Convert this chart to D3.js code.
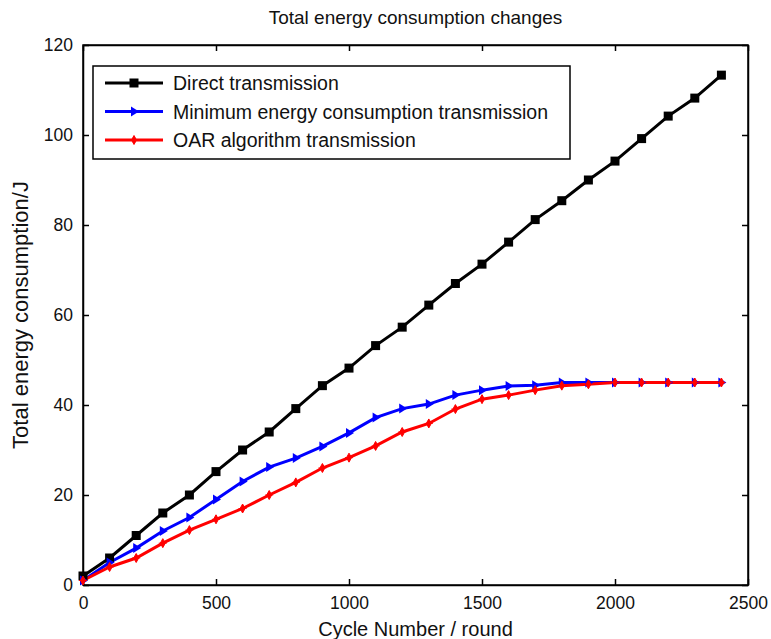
<!DOCTYPE html>
<html>
<head>
<meta charset="utf-8">
<script src="https://cdn.jsdelivr.net/npm/d3@7"></script>
<style>
  body { margin: 0; background: #fff; }
  svg text { font-family: "Liberation Sans", Arial, sans-serif; fill: #111; }
</style>
</head>
<body>
<div id="chart"></div>
<script>
// cycle numbers (rounds)
const cycles = [0, 100, 200, 300, 400, 500, 600, 700, 800, 900, 1000, 1100, 1200,
                1300, 1400, 1500, 1600, 1700, 1800, 1900, 2000, 2100, 2200, 2300, 2400];
// total energy consumption / J
const directVals = [2, 6, 11, 16, 20, 25.2, 30, 34, 39.2, 44.3, 48.2, 53.2, 57.3,
                    62.2, 67, 71.3, 76.2, 81.2, 85.4, 90, 94.2, 99.2, 104.2, 108.2, 113.3];
const minEnergyVals = [1, 5, 8.2, 12, 15, 19, 23, 26.2, 28.2, 30.8, 33.8, 37.2, 39.2,
                       40.2, 42.2, 43.3, 44.2, 44.4, 45, 45, 45, 45, 45, 45, 45];
const oarVals = [1, 4, 6, 9.3, 12.2, 14.6, 17, 20, 22.8, 26, 28.3, 30.9, 34,
                 35.9, 39.1, 41.3, 42.2, 43.3, 44.3, 44.6, 45, 45, 45, 45, 45];
const seriesNames = ["Direct transmission", "Minimum energy consumption transmission", "OAR algorithm transmission"];
const xTicks = [0, 500, 1000, 1500, 2000, 2500];
const yTicks = [0, 20, 40, 60, 80, 100, 120];

const W = 771, H = 639;
const margin = { top: 45, right: 23, bottom: 54, left: 83 };
const width = W - margin.left - margin.right,
      height = H - margin.top - margin.bottom;

const svg = d3.select("#chart").append("svg")
    .attr("width", W).attr("height", H);

const g = svg.append("g")
    .attr("transform", `translate(${margin.left}, ${margin.top})`);

const x = d3.scaleLinear().domain([0, 2500]).range([0, width]);
const y = d3.scaleLinear().domain([0, 120]).range([height, 0]);
const fmt = d3.format("d");

// axes, MATLAB style: ticks inside, box all round
g.append("g")
    .attr("transform", `translate(0, ${height})`)
    .call(d3.axisBottom(x).tickValues(xTicks).tickFormat(fmt).tickSizeInner(-6).tickSizeOuter(0).tickPadding(12))
    .call(a => a.selectAll("text").attr("font-size", 17.5));
g.append("g")
    .call(d3.axisTop(x).tickValues(xTicks).tickSizeInner(-6).tickSizeOuter(0).tickFormat(""));
g.append("g")
    .call(d3.axisLeft(y).tickValues(yTicks).tickFormat(fmt).tickSizeInner(-6).tickSizeOuter(0).tickPadding(10))
    .call(a => a.selectAll("text").attr("font-size", 17.5));
g.append("g")
    .attr("transform", `translate(${width}, 0)`)
    .call(d3.axisRight(y).tickValues(yTicks).tickSizeInner(-6).tickSizeOuter(0).tickFormat(""));
g.selectAll(".domain, .tick line").attr("stroke", "#000").attr("stroke-width", 1.5);
g.selectAll(".tick text").attr("fill", "#111").attr("font-family", "Liberation Sans, Arial, sans-serif");

g.append("rect")
    .attr("width", width).attr("height", height)
    .attr("fill", "none").attr("stroke", "#000").attr("stroke-width", 1.5);

// series
const series = [
  { name: seriesNames[0], values: directVals, color: "#000000", marker: "square" },
  { name: seriesNames[1], values: minEnergyVals, color: "#0000ff", marker: "triangle" },
  { name: seriesNames[2], values: oarVals, color: "#ff0000", marker: "diamond" }
];

const line = d3.line().x((d, i) => x(cycles[i])).y(d => y(d));

function drawMarker(sel, kind, color) {
  if (kind === "square") {
    sel.append("rect").attr("x", -4.5).attr("y", -4.5).attr("width", 9).attr("height", 9)
      .attr("fill", color);
  } else if (kind === "triangle") {
    sel.append("path").attr("d", "M5,0 L-3,-5 L-3,5 Z").attr("fill", color);
  } else {
    sel.append("path").attr("d", "M0,-4.5 L2.5,0 L0,4.5 L-2.5,0 Z M-4,0 L4,0").attr("fill", color)
      .attr("stroke", color).attr("stroke-width", 1);
  }
}

series.forEach(s => {
  g.append("path")
    .datum(s.values)
    .attr("fill", "none")
    .attr("stroke", s.color)
    .attr("stroke-width", 3)
    .attr("d", line);
});
series.forEach(s => {
  g.append("g").selectAll("g")
    .data(s.values)
    .join("g")
    .attr("transform", (d, i) => `translate(${x(cycles[i])}, ${y(d)})`)
    .each(function() { drawMarker(d3.select(this), s.marker, s.color); });
});

// title and axis labels
svg.append("text")
    .attr("x", margin.left + width / 2).attr("y", 24)
    .attr("text-anchor", "middle").attr("font-size", 19)
    .text("Total energy consumption changes");
svg.append("text")
    .attr("x", margin.left + width / 2).attr("y", 636)
    .attr("text-anchor", "middle").attr("font-size", 20)
    .text("Cycle Number / round");
svg.append("text")
    .attr("transform", `translate(28, ${margin.top + height / 2}) rotate(-90)`)
    .attr("text-anchor", "middle").attr("font-size", 22)
    .text("Total energy consumption/J");

// legend
const legend = svg.append("g").attr("transform", "translate(93, 66)");
legend.append("rect")
    .attr("width", 477).attr("height", 93)
    .attr("fill", "#fff").attr("stroke", "#000").attr("stroke-width", 1.5);
series.forEach((s, i) => {
  const row = legend.append("g").attr("transform", `translate(0, ${17 + i * 28.5})`);
  row.append("line").attr("x1", 12).attr("x2", 70)
    .attr("stroke", s.color).attr("stroke-width", 3);
  drawMarker(row.append("g").attr("transform", "translate(41, 0)"), s.marker, s.color);
  row.append("text").attr("x", 80).attr("y", 7).attr("font-size", 19.5).text(s.name);
});
</script>
</body>
</html>
